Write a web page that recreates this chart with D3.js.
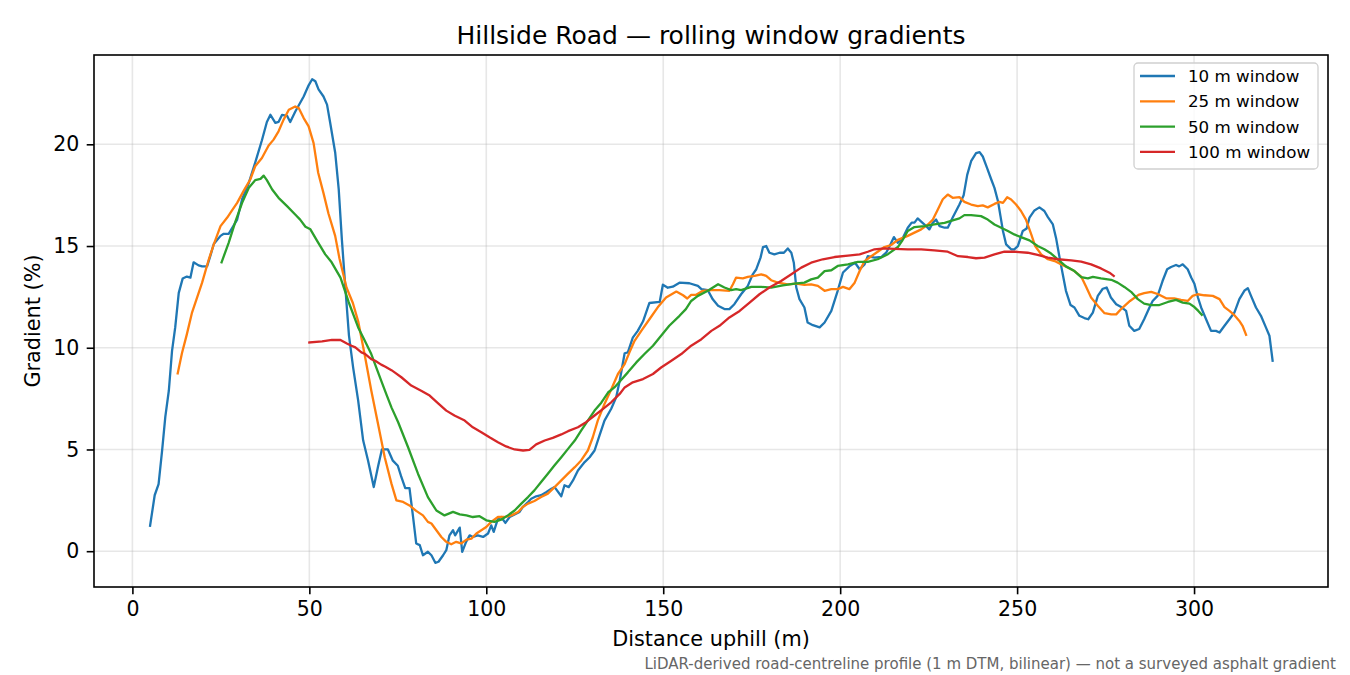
<!DOCTYPE html>
<html>
<head>
<meta charset="utf-8">
<script src="https://cdn.jsdelivr.net/npm/d3@7"></script>
<style>
  html, body { margin: 0; padding: 0; background: #fff; }
  svg { display: block; font-family: "DejaVu Sans", sans-serif; }
</style>
</head>
<body>
<div id="chart"></div>
<script>
// distance uphill (m), gradient (%) pairs
const w10 = [[5.0,1.25],[6.3,2.75],[7.4,3.3],[8.4,4.95],[9.3,6.6],[10.3,7.9],[11.2,9.85],[12.1,11.0],[13.1,12.7],[14.2,13.4],[15.4,13.5],[16.4,13.45],[17.3,14.2],[18.7,14.05],[19.7,14.0],[21.1,14.0],[22.0,14.5],[23.0,15.1],[24.9,15.5],[25.8,15.6],[27.2,15.6],[28.6,16.0],[29.6,16.3],[31.0,17.3],[32.9,18.1],[34.7,19.1],[36.6,20.2],[38.0,21.1],[39.0,21.45],[40.4,21.05],[41.3,21.1],[42.3,21.45],[43.7,21.4],[44.6,21.1],[46.0,21.6],[48.4,22.35],[49.8,22.9],[50.8,23.2],[51.7,23.1],[52.6,22.7],[54.0,22.35],[55.0,21.95],[55.9,21.05],[57.3,19.6],[58.3,17.8],[59.2,15.3],[60.2,12.9],[61.2,10.6],[62.4,9.0],[63.8,7.4],[65.2,5.45],[66.6,4.45],[68.2,3.15],[69.4,4.15],[70.5,5.0],[72.2,5.0],[73.6,4.45],[75.0,4.2],[75.9,3.7],[77.1,3.1],[78.3,3.1],[79.3,1.7],[80.2,0.38],[81.2,0.3],[82.1,-0.2],[83.5,-0.03],[84.5,-0.2],[85.6,-0.57],[86.5,-0.52],[87.8,-0.2],[88.7,0.05],[89.6,0.78],[90.6,1.03],[91.2,0.78],[92.5,1.16],[93.2,-0.03],[94.3,0.46],[95.3,0.78],[96.2,0.7],[97.6,0.78],[99.1,0.7],[100.5,0.87],[101.4,1.27],[102.1,0.95],[103.3,1.6],[104.2,1.68],[105.4,1.39],[106.6,1.68],[108.0,1.81],[109.4,1.93],[110.3,2.17],[111.8,2.42],[112.7,2.58],[114.1,2.7],[115.5,2.75],[116.9,2.9],[118.4,3.07],[119.3,3.15],[121.2,2.7],[122.1,3.24],[123.3,3.15],[124.5,3.48],[125.9,3.97],[127.8,4.38],[129.2,4.62],[130.6,4.95],[132.0,5.69],[133.4,6.42],[135.3,7.0],[136.7,7.56],[137.7,8.38],[139.1,9.73],[140.0,9.77],[141.4,10.5],[142.8,10.83],[144.3,11.3],[146.1,12.2],[149.0,12.25],[149.9,13.1],[151.3,12.95],[152.7,13.0],[154.6,13.2],[157.4,13.17],[159.8,13.04],[160.8,12.88],[162.6,12.83],[164.0,12.38],[165.5,12.06],[167.3,11.9],[168.7,11.9],[170.1,12.14],[172.0,12.63],[173.9,13.04],[175.3,13.61],[176.3,13.86],[177.5,14.43],[178.2,14.95],[179.1,15.0],[180.0,14.67],[181.4,14.59],[182.9,14.67],[184.1,14.67],[185.2,14.88],[186.2,14.67],[186.9,14.18],[187.6,12.96],[188.5,12.39],[189.9,11.98],[190.8,11.24],[192.3,11.11],[194.2,11.0],[195.6,11.24],[197.5,11.81],[199.3,12.8],[200.8,13.7],[202.6,14.0],[204.2,14.18],[205.5,13.86],[206.9,14.1],[207.8,14.5],[209.7,14.43],[211.6,14.46],[213.0,14.67],[214.0,15.0],[215.2,15.44],[216.3,15.16],[217.7,15.4],[219.1,15.9],[220.2,16.15],[221.0,16.15],[221.9,16.36],[222.9,16.2],[224.3,15.98],[225.2,15.82],[226.2,16.15],[227.1,16.3],[228.1,15.98],[229.5,15.9],[230.4,15.9],[231.8,16.4],[233.7,17.04],[234.9,17.5],[235.9,18.5],[237.0,19.17],[238.4,19.57],[239.4,19.62],[240.3,19.4],[241.5,18.84],[242.7,18.27],[243.6,17.86],[244.6,17.2],[245.3,16.47],[246.0,15.74],[246.9,15.08],[248.3,14.84],[249.2,14.84],[250.2,15.0],[251.6,15.74],[252.7,15.86],[253.5,16.4],[254.9,16.75],[256.3,16.9],[257.7,16.72],[258.7,16.42],[260.1,16.06],[261.0,15.4],[262.0,14.43],[262.9,13.61],[263.8,12.8],[265.1,12.1],[266.2,11.98],[267.6,11.57],[269.0,11.46],[270.1,11.4],[271.4,11.73],[272.8,12.55],[274.2,12.9],[275.3,12.96],[276.5,12.47],[278.0,12.14],[279.4,12.0],[280.8,11.81],[281.7,11.08],[283.1,10.83],[284.5,10.92],[285.9,11.4],[287.4,11.98],[288.3,12.3],[289.7,12.55],[291.1,13.28],[292.4,13.86],[293.5,13.97],[294.9,14.07],[295.8,14.0],[296.8,14.1],[298.2,13.86],[299.2,13.45],[300.1,13.15],[301.1,12.47],[302.0,11.98],[303.4,11.4],[304.8,10.83],[306.2,10.83],[307.2,10.75],[308.6,11.08],[310.0,11.4],[311.4,11.73],[312.8,12.39],[314.2,12.8],[315.2,12.93],[316.1,12.55],[317.5,11.98],[318.9,11.57],[320.3,11.0],[321.3,10.59],[322.2,9.36]];

const w25 = [[12.8,8.74],[14.0,9.73],[15.4,10.67],[16.8,11.7],[19.7,13.2],[21.6,14.35],[23.0,15.08],[24.9,15.98],[26.8,16.4],[28.2,16.76],[29.6,17.12],[31.4,17.7],[33.3,18.27],[34.7,18.92],[36.6,19.33],[38.5,19.94],[39.9,20.23],[41.3,20.64],[42.7,21.2],[44.2,21.7],[46.0,21.86],[47.0,21.78],[48.4,21.29],[49.8,20.88],[51.2,20.06],[52.5,18.6],[54.0,17.6],[55.4,16.6],[57.3,15.5],[58.5,14.4],[60.5,12.96],[62.3,12.2],[63.8,11.3],[65.6,9.69],[67.5,7.9],[69.4,6.26],[71.3,4.62],[73.2,3.32],[74.6,2.5],[76.5,2.42],[78.3,2.25],[80.2,1.98],[82.1,1.76],[83.5,1.44],[84.5,1.36],[85.9,1.03],[87.3,0.7],[88.7,0.46],[90.1,0.34],[91.5,0.46],[92.9,0.38],[94.4,0.57],[95.8,0.62],[97.2,0.87],[98.6,1.03],[100.0,1.19],[101.4,1.44],[103.3,1.68],[105.1,1.68],[107.1,1.76],[109.0,1.93],[110.3,2.17],[111.8,2.34],[113.6,2.47],[115.5,2.66],[117.4,2.83],[119.3,3.15],[121.2,3.48],[123.1,3.81],[125.0,4.13],[126.8,4.46],[128.7,4.95],[130.1,5.6],[131.5,6.42],[133.4,7.24],[135.3,7.95],[137.2,8.71],[139.1,9.2],[140.4,9.75],[141.9,10.34],[143.8,10.83],[146.1,11.4],[148.5,12.0],[150.8,12.47],[153.7,12.76],[155.6,12.58],[156.8,12.42],[157.9,12.6],[159.3,12.6],[161.2,12.8],[163.6,12.83],[165.9,12.83],[168.7,12.8],[169.7,13.12],[170.6,13.45],[172.5,13.41],[173.9,13.48],[175.8,13.53],[177.7,13.61],[179.1,13.53],[180.5,13.32],[182.4,13.2],[185.2,13.12],[187.6,13.15],[189.9,13.09],[191.8,13.12],[193.7,13.04],[195.6,12.8],[197.5,12.88],[199.3,12.88],[200.8,12.99],[202.6,12.88],[204.1,13.2],[205.5,13.77],[206.9,14.26],[208.8,14.5],[210.6,14.72],[212.5,14.95],[214.4,15.05],[216.3,15.3],[219.1,15.5],[221.0,15.66],[222.9,15.82],[224.8,16.06],[226.2,16.3],[227.6,16.8],[229.0,17.3],[230.4,17.53],[231.8,17.37],[233.7,17.4],[235.1,17.17],[237.0,17.04],[238.9,16.96],[240.3,17.0],[241.7,16.9],[243.6,17.07],[245.0,17.17],[246.0,17.12],[247.2,17.4],[248.3,17.29],[249.7,17.04],[251.1,16.72],[252.5,16.3],[254.0,15.57],[255.1,15.0],[256.8,14.59],[258.7,14.35],[260.6,14.26],[262.5,14.1],[264.3,13.94],[266.2,13.77],[268.1,13.5],[269.5,13.0],[270.9,12.47],[272.8,12.06],[274.7,11.7],[276.6,11.64],[278.0,11.64],[279.6,11.94],[281.9,12.3],[284.3,12.6],[285.9,12.68],[287.9,12.75],[289.9,12.63],[292.1,12.43],[294.4,12.43],[296.3,12.35],[298.2,12.3],[299.6,12.55],[301.0,12.63],[302.9,12.58],[305.3,12.55],[307.2,12.39],[308.6,12.0],[310.0,11.81],[311.4,11.6],[312.8,11.32],[313.7,11.08],[314.7,10.64]];

const w50 = [[25.2,14.2],[27.2,15.16],[29.1,16.2],[31.0,17.12],[32.9,17.86],[34.7,18.24],[36.2,18.3],[37.1,18.46],[38.0,18.24],[39.5,17.78],[41.3,17.37],[43.7,16.96],[46.0,16.55],[47.4,16.3],[48.9,15.95],[50.3,15.82],[52.2,15.25],[54.5,14.59],[56.3,14.2],[58.8,13.45],[61.1,12.25],[63.8,11.0],[65.5,10.4],[67.5,9.69],[70.3,8.38],[71.8,7.7],[73.2,7.07],[75.1,6.34],[77.9,5.11],[80.7,3.81],[83.5,2.66],[85.9,2.0],[88.2,1.76],[90.6,1.93],[92.5,1.81],[94.4,1.76],[96.2,1.68],[98.1,1.72],[100.0,1.52],[102.3,1.44],[104.2,1.55],[106.1,1.76],[108.0,2.0],[109.9,2.34],[111.8,2.66],[113.6,2.99],[115.5,3.4],[117.4,3.81],[119.3,4.22],[121.2,4.62],[123.1,5.03],[125.0,5.44],[126.8,5.93],[128.7,6.42],[130.6,6.91],[132.5,7.3],[134.4,7.8],[136.2,8.05],[138.1,8.42],[140.0,8.79],[142.4,9.28],[144.7,9.69],[147.1,10.1],[149.4,10.59],[151.7,11.08],[154.6,11.57],[156.4,11.9],[157.9,12.3],[159.8,12.55],[162.6,12.8],[165.5,13.12],[167.3,12.96],[169.2,12.83],[170.6,12.88],[172.0,12.83],[174.9,12.99],[177.7,12.99],[180.5,12.96],[183.8,13.07],[187.1,13.15],[189.9,13.2],[191.8,13.36],[193.7,13.45],[195.6,13.77],[197.5,13.81],[199.3,14.02],[202.2,14.1],[205.0,14.22],[207.8,14.22],[210.6,14.35],[213.5,14.6],[216.3,14.95],[217.5,15.25],[219.1,15.74],[221.0,15.93],[223.8,15.98],[226.6,16.06],[229.5,16.14],[231.8,16.26],[233.7,16.36],[235.1,16.52],[237.0,16.52],[239.8,16.47],[241.7,16.3],[243.6,16.06],[245.5,15.9],[247.4,15.74],[249.2,15.57],[251.1,15.44],[253.5,15.28],[255.8,15.0],[257.7,14.84],[259.6,14.63],[261.5,14.35],[263.8,14.0],[266.2,13.77],[268.1,13.47],[270.0,13.41],[271.4,13.48],[273.7,13.41],[276.6,13.34],[278.4,13.2],[280.3,12.99],[282.2,12.75],[284.1,12.39],[285.9,12.17],[287.9,12.1],[290.2,12.1],[292.6,12.25],[294.9,12.35],[296.8,12.22],[298.7,12.17],[300.1,12.0],[301.2,11.81],[302.2,11.62]];

const w100 = [[50.0,10.26],[53.6,10.31],[56.4,10.39],[58.8,10.38],[60.6,10.21],[61.9,10.1],[63.0,10.02],[64.7,9.77],[65.8,9.69],[67.5,9.44],[68.6,9.36],[70.3,9.17],[71.5,9.07],[73.2,8.9],[74.1,8.79],[76.0,8.55],[78.8,8.14],[81.6,7.89],[84.0,7.65],[86.4,7.27],[88.7,6.91],[91.0,6.67],[93.9,6.42],[96.2,6.09],[98.6,5.85],[100.9,5.6],[103.3,5.36],[105.6,5.15],[108.0,5.0],[110.4,4.95],[112.2,4.98],[114.1,5.25],[116.5,5.44],[118.8,5.57],[121.2,5.74],[123.1,5.9],[125.9,6.09],[128.2,6.34],[130.6,6.67],[133.0,7.0],[135.3,7.32],[137.7,7.73],[139.1,8.05],[141.4,8.3],[144.3,8.46],[147.1,8.71],[149.4,9.03],[152.3,9.36],[155.1,9.69],[157.9,10.1],[160.8,10.42],[163.6,10.83],[165.9,11.08],[168.7,11.49],[171.6,11.81],[174.4,12.22],[177.2,12.63],[180.0,12.96],[183.3,13.28],[186.2,13.61],[189.0,13.94],[191.8,14.18],[195.1,14.35],[198.4,14.46],[202.2,14.53],[205.5,14.59],[207.8,14.72],[209.7,14.84],[212.5,14.88],[215.3,14.86],[219.1,14.84],[222.9,14.84],[226.6,14.79],[230.4,14.72],[233.3,14.5],[236.1,14.46],[238.4,14.4],[240.8,14.43],[243.6,14.59],[246.4,14.72],[249.2,14.72],[253.0,14.67],[255.8,14.56],[258.7,14.43],[261.5,14.35],[265.3,14.3],[268.1,14.23],[270.9,14.1],[273.7,13.9],[276.1,13.69],[277.3,13.53]];

const seriesNames = ['10 m window', '25 m window', '50 m window', '100 m window'];
const seriesColors = ['#1f77b4', '#ff7f0e', '#2ca02c', '#d62728'];
const xTicks = [0, 50, 100, 150, 200, 250, 300];
const yTicks = [0, 5, 10, 15, 20];

const titleText = 'Hillside Road \u2014 rolling window gradients';
const xLabel = 'Distance uphill (m)';
const yLabel = 'Gradient (%)';
const footnote = 'LiDAR-derived road-centreline profile (1 m DTM, bilinear) \u2014 not a surveyed asphalt gradient';

(function () {
  const W = 1350, H = 675;
  const margin = { top: 55, right: 22, bottom: 88, left: 94 };
  const width = W - margin.left - margin.right;
  const height = H - margin.top - margin.bottom;

  const svg = d3.select('#chart').append('svg')
    .attr('width', W).attr('height', H);

  const g = svg.append('g').attr('transform', `translate(${margin.left},${margin.top})`);

  const x = d3.scaleLinear().domain([-10.85, 337.85]).range([0, width]);
  const y = d3.scaleLinear().domain([-1.76, 24.39]).range([height, 0]);

  // grid
  g.append('g').selectAll('line').data(xTicks).enter().append('line')
    .attr('x1', (d) => x(d)).attr('x2', (d) => x(d))
    .attr('y1', 0).attr('y2', height)
    .attr('stroke', '#b0b0b0').attr('stroke-opacity', 0.3).attr('stroke-width', 1.6);
  g.append('g').selectAll('line').data(yTicks).enter().append('line')
    .attr('x1', 0).attr('x2', width)
    .attr('y1', (d) => y(d)).attr('y2', (d) => y(d))
    .attr('stroke', '#b0b0b0').attr('stroke-opacity', 0.3).attr('stroke-width', 1.6);

  // lines
  const line = d3.line().x((d) => x(d[0])).y((d) => y(d[1]));
  [w10, w25, w50, w100].forEach((s, i) => {
    g.append('path')
      .datum(s)
      .attr('fill', 'none')
      .attr('stroke', seriesColors[i])
      .attr('stroke-width', 2.3)
      .attr('stroke-linejoin', 'round')
      .attr('stroke-linecap', 'square')
      .attr('d', line);
  });

  // axes
  const xAxis = g.append('g')
    .attr('transform', `translate(0,${height})`)
    .call(d3.axisBottom(x).tickValues(xTicks).tickSize(7.3).tickPadding(7.3).tickFormat(d3.format('d')));
  const yAxis = g.append('g')
    .call(d3.axisLeft(y).tickValues(yTicks).tickSize(7.3).tickPadding(7.3).tickFormat(d3.format('d')));
  [xAxis, yAxis].forEach((ax) => {
    ax.select('.domain').remove();
    ax.selectAll('.tick line').attr('stroke', '#000').attr('stroke-width', 1.6);
    ax.selectAll('text').attr('fill', '#000').style('font-size', '20.5px').style('font-family', 'DejaVu Sans');
  });

  // spines
  g.append('rect')
    .attr('x', 0).attr('y', 0).attr('width', width).attr('height', height)
    .attr('fill', 'none').attr('stroke', '#000').attr('stroke-width', 1.6);

  // legend
  const lg = g.append('g').attr('transform', `translate(${width - 194},8)`);
  lg.append('rect')
    .attr('width', 184).attr('height', 106).attr('rx', 4)
    .attr('fill', '#fff').attr('fill-opacity', 0.8)
    .attr('stroke', '#d0d0d0').attr('stroke-width', 1.3);
  seriesNames.forEach((name, i) => {
    const yy = 13 + i * 25.3;
    lg.append('line')
      .attr('x1', 6).attr('x2', 41).attr('y1', yy).attr('y2', yy)
      .attr('stroke', seriesColors[i]).attr('stroke-width', 2.3);
    lg.append('text')
      .attr('x', 54).attr('y', yy + 6)
      .style('font-size', '16.7px')
      .attr('fill', '#000')
      .text(name);
  });

  // title and labels
  svg.append('text')
    .attr('x', margin.left + width / 2).attr('y', 44)
    .attr('text-anchor', 'middle')
    .style('font-size', '25px')
    .text(titleText);

  svg.append('text')
    .attr('x', margin.left + width / 2).attr('y', 646)
    .attr('text-anchor', 'middle')
    .style('font-size', '20.8px')
    .text(xLabel);

  svg.append('text')
    .attr('transform', `translate(40,${margin.top + height / 2}) rotate(-90)`)
    .attr('text-anchor', 'middle')
    .style('font-size', '20.8px')
    .text(yLabel);

  svg.append('text')
    .attr('x', 1336).attr('y', 669)
    .attr('text-anchor', 'end')
    .attr('fill', '#666')
    .style('font-size', '15px')
    .text(footnote);
})();
</script>
</body>
</html>
